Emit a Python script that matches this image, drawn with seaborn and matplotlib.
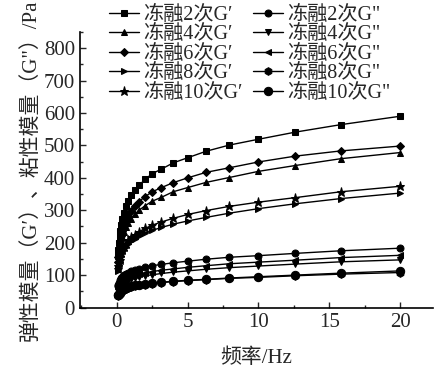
import pandas as pd
import matplotlib
matplotlib.use('Agg')
import matplotlib.pyplot as plt
import seaborn as sns
from matplotlib.ticker import MultipleLocator

# frequency sweep (Hz)
freq = [0.1, 0.126, 0.158, 0.2, 0.251, 0.316, 0.398, 0.501, 0.631, 0.794,
        1.0, 1.26, 1.58, 2.0, 2.51, 3.16, 3.98, 5.01, 6.31, 7.94,
        10.0, 12.6, 15.8, 20.0]

# storage modulus G' (Pa)
g1_2 = [158, 178, 198, 217, 236, 255, 274, 293, 312, 330, 346, 362, 377, 395,
        413, 427, 446, 462, 482, 501, 519, 541, 564, 590]
g1_4 = [135, 149, 163, 177, 191, 205, 219, 233, 247, 261, 274, 287, 300, 314,
        328, 340, 357, 370, 386, 401, 420, 438, 459, 478]
g1_6 = [140, 156, 172, 188, 204, 220, 236, 252, 268, 283, 298, 312, 327, 342,
        357, 370, 385, 400, 417, 431, 449, 467, 483, 498]
g1_8 = [112, 121, 131, 140, 149, 158, 168, 177, 186, 195, 204, 212, 220, 229,
        238, 247, 257, 267, 278, 291, 305, 320, 336, 353]
g1_10 = [118, 127, 137, 147, 157, 167, 177, 187, 197, 207, 216, 225, 234, 244,
         254, 264, 275, 287, 299, 312, 325, 339, 357, 374]

# loss modulus G'' (Pa)
g2_2 = [65, 70, 75, 80, 85, 90, 95, 100, 104, 108, 112, 116, 120, 125,
        129, 133, 138, 143, 149, 155, 160, 167, 175, 183]
g2_4 = [51, 55, 59, 63, 67, 70, 74, 78, 81, 85, 88, 91, 94, 98,
        101, 105, 109, 113, 118, 123, 128, 134, 141, 147]
g2_6 = [56, 60, 64, 68, 72, 76, 80, 84, 88, 92, 96, 99, 103, 107,
        111, 115, 119, 124, 129, 135, 140, 146, 154, 161]
g2_8 = [35, 38, 40, 43, 46, 49, 52, 55, 58, 60, 63, 66, 68, 71,
        74, 77, 80, 83, 86, 90, 93, 98, 103, 108]
g2_10 = [38, 40, 43, 46, 48, 51, 54, 57, 60, 62, 65, 68, 70, 73,
         76, 78, 81, 84, 87, 91, 95, 100, 106, 113]

labels_g1 = ['冻融2次G′', '冻融4次G′', '冻融6次G′', '冻融8次G′', '冻融10次G′']
labels_g2 = ['冻融2次G"', '冻融4次G"', '冻融6次G"', '冻融8次G"', '冻融10次G"']

sns.set_style('ticks')
plt.rcParams['font.family'] = ['Liberation Serif', 'Noto Sans CJK SC', 'DejaVu Serif']
plt.rcParams['xtick.direction'] = 'in'
plt.rcParams['ytick.direction'] = 'in'

fig = plt.figure(figsize=(4.36, 3.8), dpi=100)
ax = fig.add_axes([0.183, 0.189, 0.81, 0.727])

# G' first (left legend column), then G'' (right column)
series = [(g1_2, labels_g1[0], 's', 5), (g1_4, labels_g1[1], '^', 5),
          (g1_6, labels_g1[2], 'D', 4.5), (g1_8, labels_g1[3], '>', 5),
          (g1_10, labels_g1[4], '*', 6.5),
          (g2_2, labels_g2[0], 'o', 5), (g2_4, labels_g2[1], 'v', 5),
          (g2_6, labels_g2[2], '<', 5), (g2_8, labels_g2[3], 'h', 5.5),
          (g2_10, labels_g2[4], 'o', 6)]

for vals, lab, mk, ms in series:
    df = pd.DataFrame({'freq': freq, 'G': vals})
    sns.lineplot(data=df, x='freq', y='G', ax=ax, color='black', linewidth=1,
                 marker=mk, markersize=ms, markeredgecolor='black', label=lab)

ax.set_xlim(-2.6, 22.3)
ax.set_ylim(-2, 850)
ax.xaxis.set_major_locator(MultipleLocator(5))
ax.xaxis.set_minor_locator(MultipleLocator(2.5))
ax.yaxis.set_major_locator(MultipleLocator(100))
ax.yaxis.set_minor_locator(MultipleLocator(50))
ax.tick_params(which='major', length=4, width=1, labelsize=15)
ax.tick_params(which='minor', length=2.5, width=1)
sns.despine(ax=ax)
for s in ['left', 'bottom']:
    ax.spines[s].set_linewidth(1.2)
    ax.spines[s].set_color('black')

ax.set_xlabel('频率/Hz', fontsize=15, labelpad=12)
ax.set_ylabel('弹性模量（G′）、粘性模量（G"）/Pa', fontsize=15, labelpad=2)

ax.legend(ncol=2, loc='upper left', bbox_to_anchor=(0.06, 1.125), frameon=False,
          fontsize=14.5, labelspacing=0.02, handlelength=1.5, handletextpad=0.2,
          columnspacing=0.5, borderaxespad=0)

fig.savefig('out.png', dpi=100)
